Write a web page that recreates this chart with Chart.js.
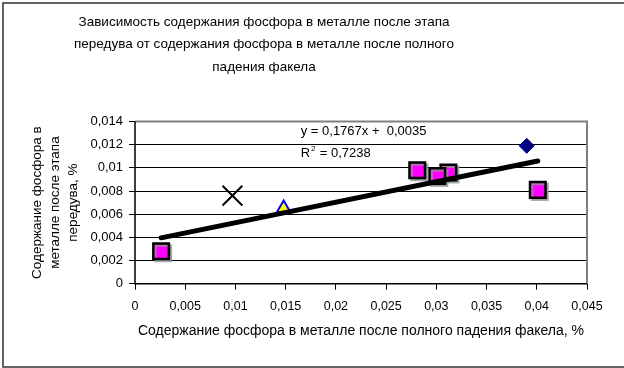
<!DOCTYPE html>
<html>
<head>
<meta charset="utf-8">
<script src="https://cdn.jsdelivr.net/npm/chart.js@4/dist/chart.umd.min.js"></script>
<style>
  html, body { margin: 0; padding: 0; background: #fff; }
  #wrap { width: 624px; height: 368px; position: relative; }
</style>
</head>
<body>
<div id="wrap"><canvas id="c" width="624" height="368"></canvas></div>
<script>
// Phosphorus content: after full flame drop (x, %) vs after the blow stage (y, %)
const squaresX  = [0.0026, 0.0281, 0.0312, 0.0301, 0.0401];
const squaresY  = [0.0028, 0.0098, 0.0096, 0.0093, 0.0081];
const diamondX  = [0.0390];
const diamondY  = [0.0119];
const triangleX = [0.0148];
const triangleY = [0.0065];
const crossX    = [0.0097];
const crossY    = [0.0076];

// Linear trend line: y = slope * x + intercept, R^2
const trendSlope = 0.1767;
const trendIntercept = 0.0035;
const trendR2 = 0.7238;

const xTicks = [0, 0.005, 0.01, 0.015, 0.02, 0.025, 0.03, 0.035, 0.04, 0.045];
const yTicks = [0, 0.002, 0.004, 0.006, 0.008, 0.01, 0.012, 0.014];

const titleLines = [
  'Зависимость содержания фосфора в металле после этапа',
  'передува от содержания фосфора в металле после полного',
  'падения факела'
];
const yTitleLines = ['Содержание фосфора в', 'металле после этапа', 'передува, %'];
const xTitle = 'Содержание фосфора в металле после полного падения факела, %';

const toPts = (xs, ys) => xs.map((x, i) => ({ x: x, y: ys[i] }));
const fmt = v => String(v).replace('.', ',');
const fmt4 = v => v.toFixed(4).replace('.', ',');

const allX = [].concat(squaresX, diamondX, triangleX, crossX);
const xMin = Math.min.apply(null, allX), xMax = Math.max.apply(null, allX);
const trendPts = [xMin, xMax].map(x => ({ x: x, y: trendSlope * x + trendIntercept }));

const FONT = "'Liberation Sans', Arial, sans-serif";

// Outer frame, chart title, plot frame and the trend equation text
const decor = {
  id: 'decor',
  beforeDraw(chart) {
    const ctx = chart.ctx;
    ctx.save();
    ctx.fillStyle = '#fff';
    ctx.fillRect(0, 0, chart.width, chart.height);
    ctx.strokeStyle = '#333';
    ctx.lineWidth = 1.5;
    ctx.beginPath();
    ctx.moveTo(630, 3);
    ctx.lineTo(3, 3);
    ctx.lineTo(3, 367);
    ctx.lineTo(630, 367);
    ctx.stroke();
    // title
    ctx.fillStyle = '#000';
    ctx.font = '13.5px ' + FONT;
    ctx.textAlign = 'center';
    ctx.textBaseline = 'middle';
    titleLines.forEach((t, i) => ctx.fillText(t, 264, 22 + i * 22.4));
    ctx.restore();
  },
  beforeDatasetsDraw(chart) {
    const ctx = chart.ctx, a = chart.chartArea;
    ctx.save();
    ctx.strokeStyle = '#808080';
    ctx.lineWidth = 2;
    ctx.beginPath();
    ctx.moveTo(a.left, a.top);
    ctx.lineTo(a.right, a.top);
    ctx.lineTo(a.right, a.bottom);
    ctx.stroke();
    ctx.strokeStyle = '#000';
    ctx.lineWidth = 1.5;
    ctx.beginPath();
    ctx.moveTo(a.left, a.top);
    ctx.lineTo(a.left, a.bottom);
    ctx.lineTo(a.right, a.bottom);
    ctx.stroke();
    // trend equation
    const xs = chart.scales.x, ys = chart.scales.y;
    const tx = xs.getPixelForValue(0.0165);
    const ty = ys.getPixelForValue(0.01313);
    ctx.fillStyle = '#000';
    ctx.font = '13px ' + FONT;
    ctx.textBaseline = 'middle';
    ctx.textAlign = 'left';
    ctx.fillText('y = ' + fmt4(trendSlope) + 'x +  ' + fmt4(trendIntercept), tx, ty);
    const ty2 = ty + 22;
    ctx.fillText('R', tx, ty2);
    const rw = ctx.measureText('R').width;
    ctx.font = '8px ' + FONT;
    ctx.fillText('2', tx + rw + 1, ty2 - 5);
    ctx.font = '13px ' + FONT;
    ctx.fillText(' = ' + fmt4(trendR2), tx + rw + 6, ty2);
    ctx.restore();
  },
  beforeDatasetDraw(chart, args) {
    if (args.meta.label === 'squares') {
      const ctx = chart.ctx;
      ctx.save();
      ctx.shadowColor = 'rgba(150,150,150,0.8)';
      ctx.shadowOffsetX = 2;
      ctx.shadowOffsetY = 2;
      ctx.shadowBlur = 0;
    }
  },
  afterDatasetDraw(chart, args) {
    if (args.meta.label === 'squares') chart.ctx.restore();
  }
};

new Chart(document.getElementById('c'), {
  type: 'scatter',
  data: {
    datasets: [
      {
        label: 'trend', data: trendPts, showLine: true, order: 0,
        borderColor: '#000', borderWidth: 5, borderCapStyle: 'round',
        pointRadius: 0, fill: false
      },
      {
        label: 'squares', data: toPts(squaresX, squaresY), order: 1,
        pointStyle: 'rect', pointRadius: 11, pointHoverRadius: 11,
        backgroundColor: '#ff00ff', borderColor: '#000', borderWidth: 2.5
      },
      {
        label: 'diamond', data: toPts(diamondX, diamondY), order: 2,
        pointStyle: 'rectRot', pointRadius: 7.5, pointHoverRadius: 7.5,
        backgroundColor: '#000080', borderColor: '#000080', borderWidth: 1
      },
      {
        label: 'triangle', data: toPts(triangleX, triangleY), order: 3,
        pointStyle: 'triangle', pointRadius: 8, pointHoverRadius: 8,
        backgroundColor: '#ffff00', borderColor: '#0000ff', borderWidth: 2
      },
      {
        label: 'cross', data: toPts(crossX, crossY), order: 4,
        pointStyle: 'crossRot', pointRadius: 14, pointHoverRadius: 14,
        backgroundColor: '#000', borderColor: '#000', borderWidth: 2
      }
    ]
  },
  options: {
    responsive: false,
    animation: false,
    events: [],
    layout: { padding: { left: 0, right: 37, top: 121.5, bottom: 0 } },
    plugins: {
      legend: { display: false },
      tooltip: { enabled: false },
      title: { display: false }
    },
    scales: {
      x: {
        type: 'linear', min: 0, max: 0.045,
        afterBuildTicks(scale) { scale.ticks = xTicks.map(v => ({ value: v })); },
        afterFit(scale) { scale.height = 84.3; },
        grid: { drawOnChartArea: false, drawTicks: true, tickLength: 6, color: '#000', lineWidth: 1 },
        border: { display: false },
        ticks: {
          color: '#000', padding: 9, maxRotation: 0, autoSkip: false,
          font: { family: FONT, size: 12.5 },
          callback: v => fmt(v)
        },
        title: {
          display: true, text: xTitle, color: '#000',
          font: { family: FONT, size: 14 }, padding: { top: 0, bottom: 28 }
        }
      },
      y: {
        type: 'linear', min: 0, max: 0.014,
        afterBuildTicks(scale) { scale.ticks = yTicks.map(v => ({ value: v })); },
        afterFit(scale) { scale.width = 135; },
        grid: { drawOnChartArea: true, drawTicks: true, tickLength: 6, color: '#000', lineWidth: 1 },
        border: { display: false },
        ticks: {
          color: '#000', padding: 6, autoSkip: false,
          font: { family: FONT, size: 13 },
          callback: v => fmt(v)
        },
        title: {
          display: true, text: yTitleLines, color: '#000',
          font: { family: FONT, size: 13.5, lineHeight: 1.3 }, padding: { top: 29, bottom: 0 }
        }
      }
    }
  },
  plugins: [decor]
});
</script>
</body>
</html>
